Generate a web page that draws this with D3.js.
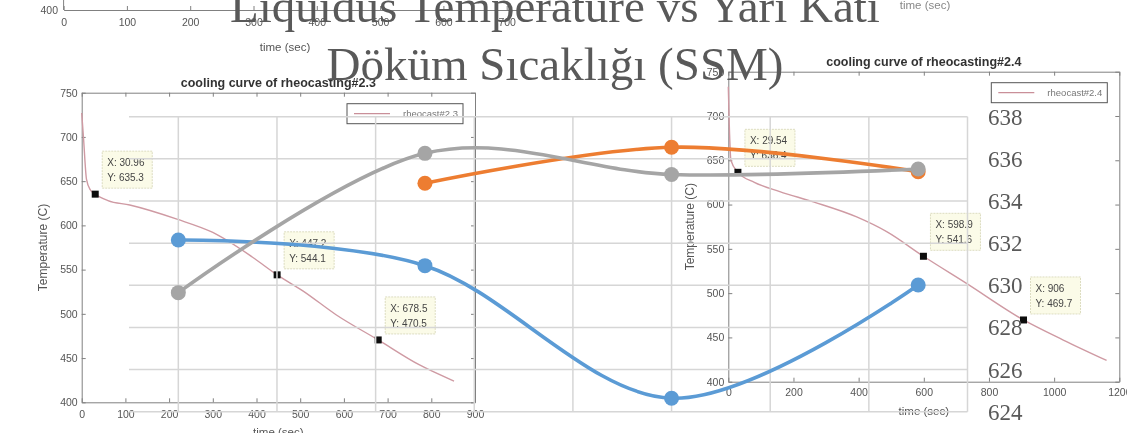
<!DOCTYPE html>
<html><head><meta charset="utf-8">
<script src="https://cdn.jsdelivr.net/npm/d3@7"></script>
<style>html,body{margin:0;padding:0;background:#fff;overflow:hidden}svg{display:block}</style>
</head><body>
<svg id="c" width="1127" height="433"></svg>
<script>
// ===== Overlay chart data (Excel-style line chart, secondary axis) =====
const categories = ["1", "2", "3", "4"];
const categoryX = [1, 3.5, 6, 8.5];
const blueValues = [632.15, 630.93, 624.64, 630.01];
const orangeValues = [null, 634.84, 636.55, 635.39];
const grayValues = [629.65, 636.26, 635.26, 635.52];
const axisTicks = [624, 626, 628, 630, 632, 634, 636, 638];
const titleLines = ["Liquidus Temperature vs Yarı Katı", "Döküm Sıcaklığı (SSM)"];

// ===== Background MATLAB figure data =====
const curve23 = [[0,727],[4,700],[11,652],[20,640],[30.96,635.3],[60,628],[110,623],[218,607],[300,592],[391,564],[447.2,544.1],[506,526],[582,499],[678.5,470.5],[772,442.5],[852,424]];
const tips23 = [[30.96,635.3],[447.2,544.1],[678.5,470.5]];
const curve24 = [[0,733],[3,690],[8,650],[29.54,636.4],[80,625],[158,614.6],[261,603],[394,586],[486,569.4],[598.9,541.6],[731,511],[906,469.7],[1028,447],[1161,424]];
const tips24 = [[29.54,636.4],[598.9,541.6],[906,469.7]];
const tempTicks = [400, 450, 500, 550, 600, 650, 700, 750];
const time900Ticks = [0,100,200,300,400,500,600,700,800,900];
const time1200Ticks = [0,200,400,600,800,1000,1200];
const topTimeTicks = [0,100,200,300,400,500,600,700];
const legend23 = "rheocast#2.3";
const legend24 = "rheocast#2.4";
const title23 = "cooling curve of rheocasting#2.3";
const title24 = "cooling curve of rheocasting#2.4";

const svg = d3.select("#c");
const SANS = "'Liberation Sans', Arial, sans-serif";
const SERIF = "'Liberation Serif', 'Times New Roman', serif";
const axCol = "#808080", txtCol = "#555";
const fmt = d3.format("d");

const defs = svg.append("defs");
defs.append("filter").attr("id", "soft").append("feGaussianBlur").attr("stdDeviation", 0.55);
const bg = svg.append("g").attr("filter", "url(#soft)");

function styleAxis(sel, fs) {
  sel.selectAll(".domain").attr("stroke", axCol).attr("stroke-width", 1);
  sel.selectAll(".tick line").attr("stroke", axCol);
  sel.selectAll(".tick text").attr("fill", txtCol).attr("font-family", SANS).attr("font-size", fs);
}

function panel(cfg) {
  const g = bg.append("g");
  const x = d3.scaleLinear().domain(cfg.xDomain).range(cfg.xRange);
  const y = d3.scaleLinear().domain([400, 750]).range(cfg.yRange);
  const [x0, x1] = cfg.xRange, [y0, y1] = cfg.yRange;
  g.append("rect").attr("x", x0).attr("y", y1).attr("width", x1 - x0).attr("height", y0 - y1)
    .attr("fill", "#fff").attr("stroke", "none");
  const b = g.append("g").attr("transform", `translate(0,${y0})`)
    .call(d3.axisBottom(x).tickValues(cfg.xTicks).tickFormat(fmt).tickSizeInner(-4).tickSizeOuter(0).tickPadding(cfg.padB));
  styleAxis(b, 10.5);
  const l = g.append("g").attr("transform", `translate(${x0},0)`)
    .call(d3.axisLeft(y).tickValues(tempTicks).tickFormat(fmt).tickSizeInner(-4).tickSizeOuter(0).tickPadding(4));
  styleAxis(l, 10.5);
  const t = g.append("g").attr("transform", `translate(0,${y1})`)
    .call(d3.axisTop(x).tickValues(cfg.xTicks).tickSizeInner(-4).tickSizeOuter(0).tickFormat(""));
  styleAxis(t, 10);
  const r = g.append("g").attr("transform", `translate(${x1},0)`)
    .call(d3.axisRight(y).tickValues(tempTicks).tickSizeInner(-4).tickSizeOuter(0).tickFormat(""));
  styleAxis(r, 10);
  g.append("path").datum(cfg.curve)
    .attr("d", d3.line().x(d => x(d[0])).y(d => y(d[1])).curve(d3.curveMonotoneX))
    .attr("fill", "none").attr("stroke", "#cf9aa3").attr("stroke-width", 1.4);
  g.append("text").attr("x", (x0 + x1) / 2).attr("y", y1 - 6).attr("text-anchor", "middle")
    .attr("font-family", SANS).attr("font-weight", "bold").attr("font-size", 12.5).attr("fill", "#333").text(cfg.title);
  g.append("text").attr("transform", `translate(${cfg.ylabX},${(y0 + y1) / 2}) rotate(-90)`)
    .attr("text-anchor", "middle").attr("font-family", SANS).attr("font-size", 12).attr("fill", txtCol).text("Temperature (C)");
  g.append("text").attr("x", (x0 + x1) / 2).attr("y", cfg.xlabY).attr("text-anchor", "middle")
    .attr("font-family", SANS).attr("font-size", 11.5).attr("fill", txtCol).text("time (sec)");
  const lg = g.append("g").attr("transform", `translate(${x1 - 128},${y1 + 11})`);
  lg.append("rect").attr("width", 116).attr("height", 20).attr("fill", "#fff").attr("stroke", "#555").attr("stroke-width", 1);
  lg.append("line").attr("x1", 7).attr("x2", 43).attr("y1", 10).attr("y2", 10).attr("stroke", "#c98f99").attr("stroke-width", 1.2);
  lg.append("text").attr("x", 111).attr("y", 13.5).attr("text-anchor", "end")
    .attr("font-family", SANS).attr("font-size", 9.5).attr("fill", "#777").text(cfg.legend);
  cfg.tips.forEach(d => {
    const px = x(d[0]), py = y(d[1]);
    const bx = px + 7, by = py - 43;
    g.append("rect").attr("x", bx).attr("y", by).attr("width", 50).attr("height", 37)
      .attr("fill", "#fbfbe8").attr("stroke", "#dcdcc0").attr("stroke-dasharray", "2,1");
    g.append("text").attr("x", bx + 5).attr("y", by + 15).attr("font-family", SANS).attr("font-size", 10)
      .attr("fill", "#444").text("X: " + d[0]);
    g.append("text").attr("x", bx + 5).attr("y", by + 30).attr("font-family", SANS).attr("font-size", 10)
      .attr("fill", "#444").text("Y: " + d[1]);
    g.append("rect").attr("x", px - 3.5).attr("y", py - 3.5).attr("width", 7).attr("height", 7).attr("fill", "#111");
  });
}

// top remnant of another figure
(function () {
  const g = bg.append("g");
  const x = d3.scaleLinear().domain([0, 800]).range([63.6, 570]);
  const ax = g.append("g").attr("transform", "translate(0,10)")
    .call(d3.axisBottom(x).tickValues(topTimeTicks).tickFormat(fmt).tickSizeInner(-4).tickSizeOuter(0).tickPadding(9));
  styleAxis(ax, 10.5);
  g.append("text").attr("x", 58).attr("y", 13.5).attr("text-anchor", "end").attr("font-family", SANS)
    .attr("font-size", 10.5).attr("fill", txtCol).text("400");
  g.append("line").attr("x1", 63.6).attr("x2", 63.6).attr("y1", 0).attr("y2", 10).attr("stroke", axCol);
  g.append("text").attr("x", 285).attr("y", 51).attr("text-anchor", "middle").attr("font-family", SANS)
    .attr("font-size", 11.5).attr("fill", txtCol).text("time (sec)");
  g.append("text").attr("x", 925).attr("y", 9).attr("text-anchor", "middle").attr("font-family", SANS)
    .attr("font-size", 11.5).attr("fill", "#888").text("time (sec)");
})();

panel({ xDomain: [0, 900], xRange: [81.7, 475], yRange: [402.3, 92.7], xTicks: time900Ticks, padB: 8,
  curve: curve23, tips: tips23, title: title23, legend: legend23, ylabX: 47, xlabY: 436 });
panel({ xDomain: [0, 1200], xRange: [728.3, 1119.3], yRange: [381.7, 71.7], xTicks: time1200Ticks, padB: 7,
  curve: curve24, tips: tips24, title: title24, legend: legend24, ylabX: 694, xlabY: 415 });

// ===== Overlay chart =====
const x = d3.scaleLinear().domain([0.5, 9]).range([129, 967.5]);
const y = d3.scaleLinear().domain([624, 638]).range([411.7, 116.7]);
const grid = svg.append("g");
axisTicks.forEach(v => {
  grid.append("line").attr("x1", x(0.5)).attr("x2", x(9)).attr("y1", y(v)).attr("y2", y(v))
    .attr("stroke", "#d6d6d6").attr("stroke-width", 1.5);
});
d3.range(1, 10).forEach(k => {
  grid.append("line").attr("x1", x(k)).attr("x2", x(k)).attr("y1", y(624)).attr("y2", y(638))
    .attr("stroke", "#d6d6d6").attr("stroke-width", 1.5);
});

const series = [
  { name: "Seri 1", values: blueValues, color: "#5B9BD5" },
  { name: "Seri 2", values: orangeValues, color: "#ED7D31" },
  { name: "Seri 3", values: grayValues, color: "#A5A5A5" }
];
const line = d3.line().defined(d => d.v != null).x(d => x(d.x)).y(d => y(d.v)).curve(d3.curveCardinal.tension(0));
series.forEach(s => {
  const pts = categories.map((c, i) => ({ c, x: categoryX[i], v: s.values[i] }));
  svg.append("path").datum(pts.filter(p => p.v != null)).attr("d", line)
    .attr("fill", "none").attr("stroke", s.color).attr("stroke-width", 3.6)
    .attr("stroke-linecap", "round").attr("stroke-linejoin", "round");
  svg.append("g").selectAll("circle").data(pts.filter(p => p.v != null)).join("circle")
    .attr("cx", d => x(d.x)).attr("cy", d => y(d.v)).attr("r", 7.5).attr("fill", s.color);
});

svg.append("g").selectAll("text").data(axisTicks).join("text")
  .attr("x", 988).attr("y", d => y(d)).attr("dy", "0.35em")
  .attr("font-family", SERIF).attr("font-size", 23).attr("fill", "#595959").text(d => d);

svg.append("g").selectAll("text").data(titleLines).join("text")
  .attr("x", 555).attr("y", (d, i) => 22 + i * 58).attr("text-anchor", "middle")
  .attr("font-family", SERIF).attr("font-size", 47).attr("fill", "#595959").text(d => d);
</script>
</body></html>
